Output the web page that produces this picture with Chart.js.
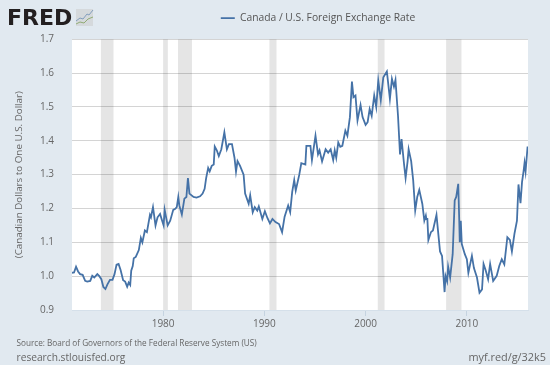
<!DOCTYPE html>
<html>
<head>
<meta charset="utf-8">
<title>Canada / U.S. Foreign Exchange Rate</title>
<script src="https://cdn.jsdelivr.net/npm/chart.js@4"></script>
<style>
  html, body { margin: 0; padding: 0; background: #e1e9f0; }
  canvas { display: block; }
</style>
</head>
<body>
<canvas id="chart" width="550" height="365"></canvas>
<script>
const seriesName = 'Canada / U.S. Foreign Exchange Rate';
const yAxisTitle = '(Canadian Dollars to One U.S. Dollar)';
const sourceText = 'Source: Board of Governors of the Federal Reserve System (US)';
const siteText = 'research.stlouisfed.org';
const linkText = 'myf.red/g/32k5';

const xTickYears = [1980, 1990, 2000, 2010];
const recessionStarts = [1973.85, 1980.0, 1981.47, 1990.5, 2001.2, 2007.95];
const recessionEnds = [1975.1, 1980.47, 1982.85, 1991.2, 2001.87, 2009.47];

const years = [
  1971.0, 1971.2, 1971.4, 1971.6, 1971.8, 1972.05, 1972.3, 1972.5, 1972.8, 1973.0, 1973.2, 1973.5, 1973.7, 1973.9,
  1974.1, 1974.3, 1974.5, 1974.75, 1975.0, 1975.2, 1975.4, 1975.6, 1975.8, 1976.05, 1976.25, 1976.45, 1976.6, 1976.75,
  1976.85, 1977.0, 1977.1, 1977.3, 1977.6, 1977.8, 1977.95, 1978.2, 1978.4, 1978.7, 1978.8, 1979.0, 1979.25, 1979.45,
  1979.7, 1979.85, 1980.05, 1980.15, 1980.45, 1980.7, 1981.0, 1981.2, 1981.35, 1981.5, 1981.6, 1981.85, 1982.1, 1982.3,
  1982.45, 1982.6, 1983.0, 1983.3, 1983.65, 1983.9, 1984.1, 1984.25, 1984.45, 1984.6, 1984.8, 1985.0, 1985.1, 1985.3,
  1985.5, 1985.75, 1986.05, 1986.3, 1986.5, 1986.8, 1987.05, 1987.2, 1987.35, 1987.6, 1987.95, 1988.1, 1988.45, 1988.6,
  1988.85, 1989.05, 1989.3, 1989.45, 1989.8, 1990.05, 1990.3, 1990.55, 1990.8, 1991.1, 1991.45, 1991.75, 1992.0, 1992.35,
  1992.55, 1992.75, 1992.95, 1993.1, 1993.45, 1993.65, 1994.05, 1994.15, 1994.55, 1994.7, 1995.05, 1995.3, 1995.45, 1995.7,
  1996.05, 1996.3, 1996.55, 1996.8, 1996.95, 1997.1, 1997.3, 1997.5, 1997.7, 1998.0, 1998.2, 1998.45, 1998.65, 1998.8,
  1999.0, 1999.2, 1999.5, 1999.7, 2000.0, 2000.2, 2000.4, 2000.6, 2000.85, 2001.05, 2001.25, 2001.5, 2001.75, 2002.1,
  2002.4, 2002.6, 2002.8, 2002.95, 2003.2, 2003.4, 2003.55, 2003.8, 2003.95, 2004.15, 2004.25, 2004.5, 2004.7, 2004.9,
  2005.1, 2005.3, 2005.6, 2005.8, 2005.95, 2006.0, 2006.1, 2006.2, 2006.45, 2006.65, 2007.0, 2007.35, 2007.55, 2007.8,
  2007.9, 2008.05, 2008.15, 2008.35, 2008.6, 2008.8, 2008.95, 2009.15, 2009.25, 2009.3, 2009.4, 2009.5, 2009.8, 2010.0,
  2010.15, 2010.5, 2010.7, 2011.0, 2011.25, 2011.5, 2011.65, 2011.85, 2012.1, 2012.3, 2012.6, 2012.95, 2013.2, 2013.45,
  2013.7, 2014.0, 2014.25, 2014.45, 2014.7, 2014.95, 2015.1, 2015.3, 2015.45, 2015.6, 2015.7, 2015.8, 2016.0
];
const rates = [
  1.010, 1.011, 1.028, 1.014, 1.006, 1.004, 0.986, 0.984, 0.986, 1.001, 0.996, 1.006, 1.000, 0.991,
  0.968, 0.962, 0.976, 0.989, 0.989, 1.006, 1.034, 1.036, 1.018, 0.988, 0.984, 0.969, 0.981, 0.974,
  1.016, 1.030, 1.053, 1.057, 1.077, 1.113, 1.100, 1.135, 1.130, 1.181, 1.174, 1.204, 1.150, 1.174,
  1.184, 1.169, 1.150, 1.196, 1.150, 1.164, 1.196, 1.199, 1.204, 1.234, 1.209, 1.182, 1.229, 1.234,
  1.290, 1.244, 1.234, 1.232, 1.236, 1.244, 1.258, 1.290, 1.320, 1.310, 1.326, 1.330, 1.383, 1.372,
  1.355, 1.375, 1.425, 1.375, 1.390, 1.390, 1.350, 1.309, 1.340, 1.326, 1.300, 1.244, 1.214, 1.239,
  1.189, 1.204, 1.194, 1.206, 1.169, 1.192, 1.172, 1.156, 1.169, 1.160, 1.154, 1.130, 1.176, 1.209,
  1.189, 1.249, 1.284, 1.253, 1.300, 1.334, 1.330, 1.385, 1.385, 1.343, 1.415, 1.360, 1.372, 1.339,
  1.375, 1.365, 1.375, 1.343, 1.372, 1.350, 1.395, 1.382, 1.385, 1.430, 1.415, 1.470, 1.575, 1.529,
  1.534, 1.460, 1.506, 1.470, 1.447, 1.455, 1.494, 1.474, 1.534, 1.500, 1.578, 1.520, 1.588, 1.605,
  1.524, 1.583, 1.560, 1.580, 1.474, 1.360, 1.405, 1.330, 1.290, 1.340, 1.375, 1.340, 1.283, 1.194,
  1.234, 1.255, 1.214, 1.164, 1.179, 1.169, 1.169, 1.107, 1.130, 1.135, 1.181, 1.073, 1.060, 0.953,
  1.000, 0.985, 1.028, 0.996, 1.065, 1.224, 1.234, 1.273, 1.164, 1.100, 1.164, 1.095, 1.065, 1.050,
  1.010, 1.060, 1.024, 0.996, 0.951, 0.961, 1.036, 1.018, 0.991, 1.036, 0.986, 1.001, 1.030, 1.050,
  1.035, 1.115, 1.107, 1.073, 1.125, 1.164, 1.271, 1.216, 1.278, 1.310, 1.335, 1.310, 1.383
];

const pageText = {
  id: 'pageText',
  beforeDraw(chart) {
    const c = chart.ctx;
    const area = chart.chartArea;
    c.save();
    c.fillStyle = '#ffffff';
    c.fillRect(area.left, area.top, area.right - area.left, area.bottom - area.top);
    c.textBaseline = 'alphabetic';
    c.fillStyle = '#231f20';
    c.font = 'bold 22px "DejaVu Sans"';
    c.textAlign = 'left';
    c.fillText('FRED', 7, 25);
    // little chart icon next to the logo
    c.fillStyle = '#d5d9dc';
    c.fillRect(76, 9, 17, 17);
    c.lineWidth = 0.8;
    c.strokeStyle = '#6d8fb5';
    c.beginPath();
    c.moveTo(76, 21); c.lineTo(80, 18); c.lineTo(83, 19); c.lineTo(87, 14); c.lineTo(89, 15); c.lineTo(93, 10);
    c.stroke();
    c.strokeStyle = '#7fa05a';
    c.beginPath();
    c.moveTo(76, 24); c.lineTo(80, 22); c.lineTo(84, 23); c.lineTo(88, 19); c.lineTo(93, 17);
    c.stroke();
    c.fillStyle = '#666666';
    c.font = '8.2px "Open Sans"';
    c.fillText(sourceText, 16.5, 346);
    c.font = '10.2px "Open Sans"';
    c.fillText(siteText, 16.5, 361);
    c.textAlign = 'right';
    c.font = '10.9px "Open Sans"';
    c.fillText(linkText, 546, 361);
    c.restore();
  }
};

const recessionBands = {
  id: 'recessionBands',
  beforeDatasetsDraw(chart) {
    const c = chart.ctx;
    const area = chart.chartArea;
    const x = chart.scales.x;
    c.save();
    c.fillStyle = 'rgba(0,0,0,0.1)';
    recessionStarts.forEach(function (start, i) {
      const x0 = x.getPixelForValue(start);
      const x1 = x.getPixelForValue(recessionEnds[i]);
      c.fillRect(x0, area.top, x1 - x0, area.bottom - area.top);
    });
    c.restore();
  }
};

const moveLegend = {
  id: 'moveLegend',
  afterLayout(chart) {
    // legend sits right of the plot centre and higher up in the original
    chart.legend.left = 86;
    chart.legend.right = 550;
    chart.legend.top -= 6;
    chart.legend.bottom -= 6;
  }
};

new Chart(document.getElementById('chart'), {
  type: 'line',
  data: {
    datasets: [{
      label: seriesName,
      data: years.map(function (y, i) { return { x: y, y: rates[i] }; }),
      borderColor: '#4572a7',
      backgroundColor: '#4572a7',
      borderWidth: 1.8,
      pointRadius: 0,
      tension: 0
    }]
  },
  options: {
    responsive: false,
    animation: false,
    layout: { padding: { top: 9, right: 22, bottom: 33, left: 0 } },
    plugins: {
      legend: {
        position: 'top',
        labels: {
          boxWidth: 14,
          boxHeight: 0,
          padding: 10,
          color: '#555555',
          font: { family: '"Open Sans"', size: 10.3 }
        }
      },
      tooltip: { enabled: false }
    },
    scales: {
      x: {
        type: 'linear',
        min: 1971,
        max: 2016.04,
        afterBuildTicks(axis) {
          axis.ticks = xTickYears.map(function (y) { return { value: y }; });
        },
        grid: { drawOnChartArea: false, drawTicks: true, tickLength: 6, color: '#c5d3e0' },
        border: { color: '#d5e0ea' },
        ticks: {
          color: '#666666',
          font: { family: '"Open Sans"', size: 10 },
          maxRotation: 0,
          padding: 2,
          callback(v) { return String(v); }
        }
      },
      y: {
        min: 0.9,
        max: 1.7,
        afterFit(axis) { axis.width = 72; },
        grid: { drawTicks: false, color: '#d4d4d4' },
        border: { display: false },
        title: {
          display: true,
          text: yAxisTitle,
          color: '#666666',
          font: { family: '"Open Sans"', size: 9.8 },
          padding: { top: 13, bottom: 0 }
        },
        ticks: {
          stepSize: 0.1,
          color: '#666666',
          font: { family: '"Open Sans"', size: 10 },
          padding: 18,
          callback(v) { return v.toFixed(1); }
        }
      }
    }
  },
  plugins: [pageText, recessionBands, moveLegend]
});
</script>
</body>
</html>
